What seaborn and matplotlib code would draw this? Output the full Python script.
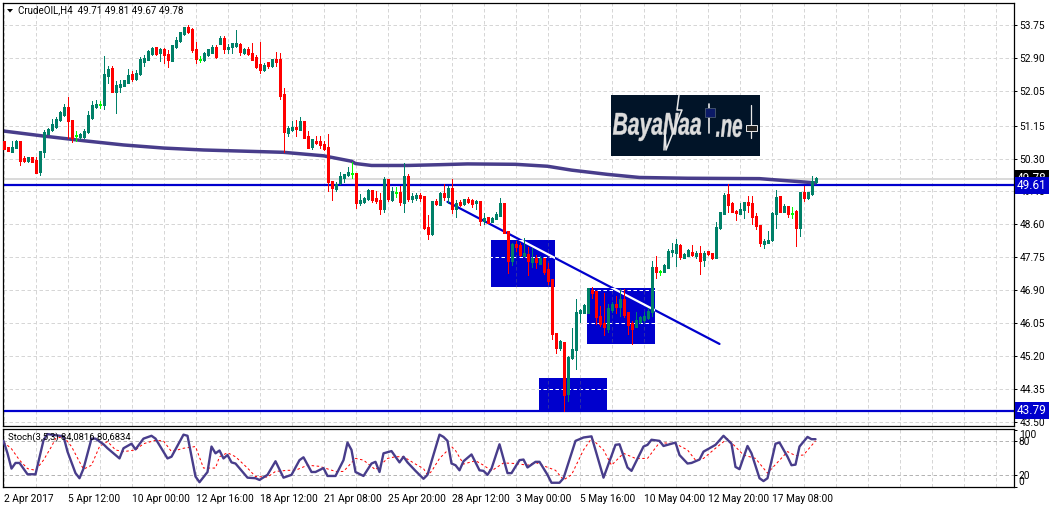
import matplotlib
matplotlib.use('Agg')
import matplotlib.pyplot as plt
import seaborn as sns
from matplotlib.patches import Rectangle, PathPatch
from matplotlib.textpath import TextPath
from matplotlib.font_manager import FontProperties
from matplotlib.transforms import Affine2D
from matplotlib.ticker import MultipleLocator

sns.set_theme(style='white')
plt.rcParams['font.family'] = ['Roboto', 'DejaVu Sans']

# candles, one value per H4 bar
opens = [50.73,50.59,50.48,50.59,50.74,50.29,50.25,50.33,50.25,49.96,
         50.47,50.95,51.06,51.12,51.30,51.44,51.63,51.27,50.89,50.88,
         50.87,51.00,51.37,51.65,51.69,51.70,52.45,52.62,52.04,52.17,
         52.18,52.27,52.47,52.36,52.49,52.81,52.87,53.01,53.17,53.05,
         53.12,52.98,52.83,53.19,53.34,53.54,53.69,53.62,53.11,52.85,
         52.85,52.98,53.05,53.18,53.28,53.41,53.13,53.19,53.21,53.24,
         53.04,53.12,53.02,52.92,52.72,52.60,52.77,52.70,52.87,52.85,
         51.95,50.97,51.04,51.11,51.06,51.26,50.87,50.61,50.75,50.75,
         50.65,50.59,49.71,49.53,49.67,49.82,49.88,
         49.91,49.91,49.17,49.20,49.26,49.47,49.26,49.22,49.01,49.76,
         49.24,49.43,49.43,49.17,49.83,49.26,49.29,49.35,49.31,48.51,
         48.37,49.19,49.11,49.40,49.33,49.52,49.01,49.17,49.14,49.24,
         49.22,49.16,49.20,48.69,48.77,48.68,48.75,48.84,49.14,48.41,
         47.66,48.07,48.06,47.80,47.83,47.63,47.72,47.60,47.71,47.42,
         47.18,45.77,45.41,45.55,44.22,45.17,45.37,46.31,46.33,46.33,
         46.90,46.86,46.22,46.05,45.92,46.41,46.54,46.47,46.67,46.31,
         46.05,45.95,46.09,46.14,46.20,46.35,47.48,47.38,47.39,47.49,
         47.89,47.87,48.06,47.75,47.80,47.88,47.79,47.84,47.68,47.89,
         47.85,47.74,48.52,48.88,49.38,49.14,48.94,48.87,48.97,49.17,
         49.14,48.81,48.58,48.10,48.13,48.20,48.88,49.31,48.94,49.07,
         48.88,48.92,48.51,49.43,49.29,49.40,49.71]
highs = [50.73,50.59,50.76,50.78,50.74,50.37,50.33,50.33,50.33,50.48,
         51.04,51.10,51.31,51.36,51.53,51.72,51.88,51.27,51.01,50.97,
         51.06,51.53,51.78,51.81,51.78,52.94,52.68,52.68,52.30,52.34,
         52.34,52.61,52.55,52.58,52.92,52.98,53.11,53.19,53.19,53.15,
         53.15,53.11,53.24,53.45,53.58,53.71,53.75,53.66,53.30,52.95,
         53.04,53.13,53.22,53.24,53.47,53.47,53.25,53.28,53.62,53.28,
         53.15,53.19,53.28,52.98,53.30,52.77,52.78,52.88,53.04,53.02,
         52.11,51.14,51.27,51.29,51.38,51.28,51.00,50.80,50.87,50.87,
         50.76,50.93,49.71,49.69,49.95,49.90,50.07,
         50.20,49.91,49.39,49.30,49.50,49.47,49.47,49.41,49.83,49.76,
         49.57,49.56,49.59,50.19,49.91,49.41,49.41,49.41,49.31,48.83,
         49.20,49.26,49.43,49.63,49.60,49.76,49.24,49.24,49.24,49.31,
         49.26,49.24,49.20,48.88,48.77,48.79,48.92,49.29,49.16,48.43,
         48.13,48.17,48.13,48.24,48.02,48.00,47.80,47.78,47.74,47.59,
         47.18,45.77,45.62,45.57,45.19,45.91,46.67,46.41,46.54,46.94,
         46.97,46.86,46.50,46.82,46.54,46.60,46.75,46.93,46.93,46.33,
         46.11,46.33,46.24,46.33,46.45,47.66,47.77,47.42,47.57,47.96,
         48.13,48.21,48.08,47.85,47.97,48.07,47.90,48.04,47.90,47.91,
         47.87,48.67,48.91,49.42,49.63,49.18,48.97,49.14,49.18,49.33,
         49.34,48.88,48.58,48.21,48.43,48.91,49.48,49.33,49.12,49.07,
         49.05,48.97,49.44,49.59,49.43,49.84,49.81]
lows = [50.54,50.50,50.48,50.57,50.12,50.20,50.20,50.20,49.93,49.88,
        50.33,50.93,51.01,51.10,51.27,51.40,50.84,50.73,50.76,50.80,
        50.84,50.97,51.31,51.61,51.61,51.59,52.25,52.01,51.47,52.01,
        52.17,52.25,52.30,52.34,52.47,52.68,52.85,52.98,52.98,52.83,
        52.77,52.66,52.81,53.15,53.32,53.49,53.54,53.06,52.78,52.80,
        52.83,52.95,53.02,52.89,53.26,53.02,53.02,53.02,53.18,52.98,
        53.00,52.98,52.85,52.64,52.51,52.56,52.65,52.66,52.68,51.84,
        50.47,50.87,51.00,50.87,51.04,50.82,50.57,50.54,50.68,50.57,
        50.53,49.47,49.22,49.47,49.64,49.69,49.86,
        49.80,49.01,49.11,49.16,49.24,49.17,49.16,48.86,48.93,49.20,
        49.20,49.31,49.11,48.93,49.20,49.17,49.24,49.20,48.49,48.21,
        48.32,49.11,49.09,49.22,49.16,48.88,48.79,49.07,49.11,49.14,
        49.05,49.00,48.57,48.60,48.63,48.66,48.75,48.81,48.39,47.34,
        47.55,47.91,47.79,47.79,47.29,47.51,47.48,47.57,47.31,47.05,
        45.64,45.28,45.35,43.77,44.04,45.12,44.87,46.07,46.31,46.31,
        46.69,46.02,45.98,45.73,45.81,46.33,46.31,46.24,46.20,45.77,
        45.52,45.94,46.05,46.11,46.15,46.24,47.22,47.30,47.37,47.48,
        47.77,47.53,47.70,47.72,47.77,47.77,47.72,47.32,47.53,47.82,
        47.71,47.72,48.48,48.86,48.91,48.91,48.71,48.86,48.77,48.93,
        48.60,48.48,48.03,48.00,48.11,48.18,48.51,48.93,48.93,48.80,
        48.77,48.03,48.31,49.21,49.25,49.36,49.67]
closes = [50.56,50.50,50.59,50.74,50.25,50.24,50.33,50.23,49.93,50.48,
          50.97,51.06,51.17,51.31,51.50,51.63,51.27,50.84,50.89,50.91,
          51.00,51.40,51.67,51.70,51.69,52.47,52.61,52.04,52.18,52.22,
          52.31,52.44,52.36,52.49,52.87,52.89,53.07,53.13,53.02,53.11,
          52.98,52.85,53.21,53.35,53.55,53.68,53.58,53.11,52.89,52.85,
          53.00,53.11,53.18,52.94,53.41,53.13,53.18,53.26,53.26,53.06,
          53.11,53.02,52.87,52.68,52.60,52.71,52.71,52.85,52.80,51.93,
          50.99,51.08,51.11,51.07,51.26,50.85,50.59,50.78,50.71,50.65,
          50.57,49.70,49.54,49.62,49.84,49.88,49.95,
          49.91,49.17,49.22,49.27,49.47,49.24,49.22,49.01,49.76,49.26,
          49.46,49.43,49.18,49.83,49.26,49.31,49.35,49.30,48.51,48.37,
          49.20,49.14,49.40,49.33,49.52,49.01,49.13,49.11,49.24,49.18,
          49.14,49.20,48.69,48.75,48.64,48.76,48.86,49.14,48.40,47.66,
          48.08,48.03,47.81,47.85,47.66,47.72,47.63,47.72,47.37,47.16,
          45.77,45.41,45.57,44.21,45.17,45.36,46.31,46.37,46.51,46.93,
          46.84,46.21,46.05,45.96,46.43,46.54,46.48,46.67,46.28,46.01,
          45.92,46.12,46.18,46.21,46.36,47.48,47.37,47.38,47.54,47.90,
          47.93,48.08,47.76,47.83,47.93,47.81,47.85,47.66,47.85,47.84,
          47.74,48.52,48.91,49.35,49.12,48.93,48.90,48.99,49.16,49.12,
          48.81,48.57,48.13,48.15,48.19,48.88,49.30,48.94,49.05,48.87,
          48.88,48.51,49.43,49.29,49.42,49.70,49.78]

# slow moving average
ma_bars = [0,10,20,30,40,50,60,70,80,87,88,92,101,109,116,128,136,142,151,159,171,189,194,198,203]
ma_vals = [51.01,50.88,50.76,50.65,50.57,50.52,50.49,50.46,50.37,50.23,50.17,50.12,50.12,50.14,
           50.16,50.15,50.10,50.00,49.89,49.81,49.79,49.78,49.74,49.71,49.67]

# stochastic main line
st_bars = [0,1,2,3,4,6,8,10,11,13,15,16,18,19,20,22,23,25,26,28,29,30,32,33,35,37,38,41,42,44,45,46,48,49,
           51,52,53,54,55,56,57,58,61,63,64,66,68,70,72,74,75,77,78,80,81,83,85,86,87,88,90,92,93,94,95,97,
           99,100,101,103,105,106,109,110,111,112,113,114,115,117,119,120,121,122,124,126,127,129,130,131,
           133,134,136,137,139,140,143,145,147,150,153,154,156,157,160,161,162,164,165,168,169,171,172,174,
           175,178,180,182,183,184,186,187,189,190,191,193,194,196,197,198,199,201,202,203]
st_vals = [81,59,32,42,42,22,22,82,93,91,89,62,24,15,32,85,85,75,68,56,50,68,76,66,85,90,85,50,53,79,92,90,18,8,
           26,71,59,64,50,56,43,41,16,15,12,21,45,16,21,47,52,26,26,33,19,19,47,78,65,26,19,41,44,26,59,63,
           43,53,43,28,14,21,92,88,81,41,38,29,45,57,29,28,21,32,75,24,24,47,48,34,
           44,44,21,7,7,15,81,87,89,16,74,75,34,28,71,74,83,81,72,78,56,41,42,48,
           62,74,90,76,35,31,72,59,15,10,15,76,78,53,38,39,71,88,84,84]

# stochastic signal line
sg_bars = [0,2,4,6,8,10,12,13,15,17,19,20,22,24,26,28,30,33,35,38,40,42,45,48,50,53,54,56,58,61,63,66,68,71,73,
           76,79,83,85,88,90,93,96,98,100,103,105,106,107,109,112,113,115,118,120,122,125,128,131,133,135,138,
           140,142,145,147,150,152,155,158,161,164,168,171,173,175,178,181,185,188,191,196,198,200,203]
sg_vals = [79,67,47,32,29,47,71,85,89,71,44,31,38,71,80,65,62,65,76,82,81,62,68,71,33,33,53,60,53,33,18,17,27,29,29,
           38,36,27,27,50,47,30,50,53,53,40,32,21,27,50,71,64,40,46,38,28,42,41,38,43,37,29,
           12,21,65,85,65,38,59,50,50,78,76,65,47,50,68,85,56,50,24,62,55,56,81]

# levels, trend line and zones
support = 43.79
resist = 49.61
last_price = 49.78
trend_bars = [111, 179]
trend_vals = [49.18, 45.51]
zone_left = [121.9, 145.9, 133.9]
zone_right = [137.9, 162.9, 150.9]
zone_top = [48.19, 46.95, 44.63]
zone_bottom = [46.98, 45.51, 43.79]

price_ticks = [53.75,52.90,52.05,51.15,50.30,49.45,48.60,47.75,46.90,46.05,45.20,44.35,43.50]
time_labels = ['2 Apr 2017','5 Apr 12:00','10 Apr 00:00','12 Apr 16:00','18 Apr 12:00','21 Apr 08:00',
               '25 Apr 20:00','28 Apr 12:00','3 May 00:00','5 May 16:00','10 May 04:00','12 May 20:00','17 May 08:00']

W, H = 1053, 508
PX = 0.72  # one pixel in points at dpi 100
GRID = '#d6d6d6'
DASH = (0, (3.5, 2.5))
BLUE = '#0000cd'
MA_COL = '#483d8b'
TXT = 7.3

fig = plt.figure(figsize=(W / 100, H / 100), dpi=100)
ax = fig.add_axes([2.5 / W, 1 - 426 / H, 1011 / W, 423.5 / H])
st = fig.add_axes([2.5 / W, 1 - 487 / H, 1011 / W, 58 / H], sharex=ax)

for a in (ax, st):
    a.set_xlim(-0.25, 252.5)
    a.xaxis.set_major_locator(MultipleLocator(16))
    a.xaxis.set_minor_locator(MultipleLocator(8))
    a.grid(True, which='both', axis='x', color=GRID, lw=PX, linestyle=DASH, zorder=0)
    a.set_axisbelow(True)
    for s in a.spines.values():
        s.set_color('black')
        s.set_linewidth(0.9)
    a.yaxis.tick_right()
    a.tick_params(axis='y', which='both', right=True, length=2.2, width=PX, pad=2.2,
                  labelsize=TXT, colors='black')

ax.set_ylim(43.39, 54.33)
ax.set_yticks(price_ticks)
ax.set_yticklabels(['%.2f' % p for p in price_ticks])
ax.grid(True, axis='y', color=GRID, lw=PX, linestyle=DASH, zorder=0)
ax.tick_params(axis='x', which='both', length=0, labelbottom=False)

# zones with the grid showing through
zones = []
for x0, x1, y1, y0 in zip(zone_left, zone_right, zone_top, zone_bottom):
    r = Rectangle((x0, y0), x1 - x0, y1 - y0, fc=BLUE, ec='none', zorder=1)
    ax.add_patch(r)
    zones.append(r)
    for p in price_ticks:
        l = ax.axhline(p, color='white', lw=PX, linestyle=DASH, zorder=1.2)
        l.set_clip_path(r)
    for b in range(0, 256, 8):
        l = ax.axvline(b, color='#2c2ca8', lw=PX, linestyle=DASH, zorder=1.2)
        l.set_clip_path(r)

ax.axhline(last_price, color='#d9d9d9', lw=1.4, zorder=1.3)
ax.axhline(resist, color=BLUE, lw=1.6, zorder=1.4)
ax.axhline(support, color=BLUE, lw=1.6, zorder=1.4)

sns.lineplot(x=trend_bars, y=trend_vals, ax=ax, color=BLUE, linewidth=1.6, zorder=2, legend=False)
for r in zones[:2]:
    w = ax.plot(trend_bars, trend_vals, color='white', lw=1.6, zorder=2.1)[0]
    w.set_clip_path(r)

sns.lineplot(x=ma_bars, y=ma_vals, ax=ax, color=MA_COL, linewidth=2.5, zorder=2.5, legend=False)

# candles
cols = []
for o, c in zip(opens, closes):
    cols.append('#00ff00' if o == c else ('#008068' if c > o else '#ff0000'))
bars = list(range(len(opens)))
ax.vlines(bars, lows, highs, colors=cols, lw=PX, zorder=3, antialiased=False)
body_lo = [min(o, c) - 0.013 for o, c in zip(opens, closes)]
body_hi = [max(o, c) + 0.013 for o, c in zip(opens, closes)]
ax.vlines(bars, body_lo, body_hi, colors=cols, lw=3 * PX, zorder=3.1, antialiased=False, capstyle='butt')

# stochastic pane
st.set_ylim(-0.5, 102)
st.set_yticks([100, 80, 20, 0])
st.set_yticklabels(['100', '80', '20', '0'])
labs = st.get_yticklabels()
labs[0].set_va('top')
labs[3].set_va('bottom')
st.tick_params(axis='y', pad=1.5)
for lev in (80, 20):
    st.axhline(lev, color='#b4b4b4', lw=PX, linestyle=DASH, zorder=0.5)
sns.lineplot(x=sg_bars, y=sg_vals, ax=st, color='#ff0000', linewidth=PX, linestyle=(0, (2.5, 2.5)),
             zorder=2, legend=False)
sns.lineplot(x=st_bars, y=st_vals, ax=st, color=MA_COL, linewidth=1.7, zorder=3, legend=False)
st.set_xticks(range(0, 208, 16))
st.set_xticklabels(time_labels, ha='left', fontsize=TXT, color='black')
st.tick_params(axis='x', which='major', length=2.2, width=PX, pad=2.5)
st.tick_params(axis='x', which='minor', length=0)
ax.tick_params(axis='x', which='both', length=0, labelbottom=False)

# price boxes on the scale
for val, fc, z in ((last_price, 'black', 20), (resist, BLUE, 21), (support, BLUE, 21)):
    ax.annotate('%.2f' % val, xy=(1, val), xycoords=ax.get_yaxis_transform(), xytext=(2.6, 0),
                textcoords='offset points', va='center', ha='left', fontsize=8.5, color='white',
                annotation_clip=False, zorder=z,
                bbox=dict(boxstyle='square,pad=0.18', fc=fc, ec='none'))

# pixel overlay for the header text and the watermark
ov = fig.add_axes([0, 0, 1, 1], zorder=10)
ov.set_xlim(0, W)
ov.set_ylim(H, 0)
ov.axis('off')
ov.patch.set_alpha(0)

ov.text(18, 10.5, 'CrudeOIL,H4  49.71 49.81 49.67 49.78', fontsize=7.0, va='center', color='black')
ov.fill([7, 13, 10], [9, 9, 12.5], color='black', lw=0)
ov.text(7.5, 437.5, 'Stoch(3,5,3) 84,0816 80,6834', fontsize=6.8, va='center', color='black')

ov.add_patch(Rectangle((611, 95), 149, 61, fc='#011428', ec='none'))


def fit_text(s, x0, x1, y0, y1):
    fp = FontProperties(family='Liberation Sans', weight='bold', style='italic')
    tp = TextPath((0, 0), s, size=20, prop=fp)
    bb = tp.get_extents()
    sx = (x1 - x0) / bb.width
    sy = (y1 - y0) / bb.height
    tr = Affine2D().translate(-bb.x0, -bb.y1).scale(sx, -sy).translate(x0, y0)
    ov.add_patch(PathPatch(tr.transform_path(tp), fc='#dcdcdc', ec='#dcdcdc', lw=0.3))


fit_text('BayaNaa', 613, 701, 113, 141)
fit_text('.ne', 716, 742, 119, 137)
ov.plot([679, 677, 682, 666, 665, 664], [95, 110, 110, 150, 130, 150], color='#e8e8e8', lw=1.1)
ov.plot([709, 709], [104, 133], color='#e8e8e8', lw=1.2)
ov.add_patch(Rectangle((704.5, 108), 10.5, 9, fc='#0b1a66', ec='#4a5a70', lw=0.6, zorder=3))
ov.plot([751, 751], [105, 138], color='#e8e8e8', lw=0.9)
ov.add_patch(Rectangle((746, 125), 11, 6, fc='#222222', ec='#e8e8e8', lw=0.7, zorder=3))

fig.savefig('out.png', dpi=100)
